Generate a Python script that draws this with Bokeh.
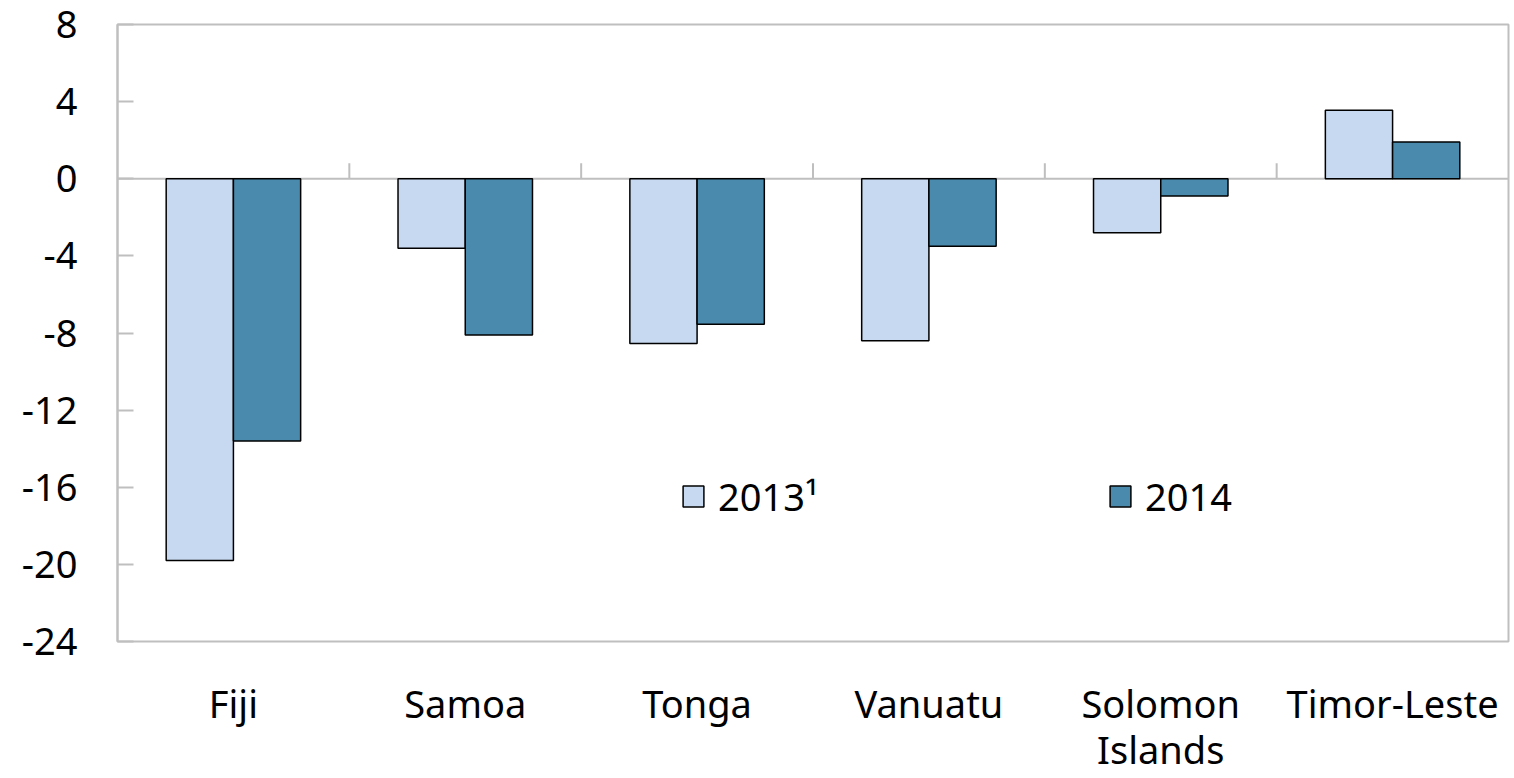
from bokeh.plotting import figure
from bokeh.models import Range1d, FixedTicker, Legend, LegendItem, ColumnDataSource
from bokeh.embed import file_html
from bokeh.resources import INLINE

countries = ["Fiji", "Samoa", "Tonga", "Vanuatu", "Solomon\nIslands", "Timor-Leste"]
v2013 = [-19.8, -3.6, -8.55, -8.4, -2.8, 3.55]
v2014 = [-13.6, -8.1, -7.55, -3.5, -0.9, 1.9]
yticks = [-24, -20, -16, -12, -8, -4, 0, 4, 8]
labels = ["2013\u00b9", "2014"]

FONT = "Noto Sans"
LIGHT = "#C6D9F0"
DARK = "#4A8BAD"
GRID = "#BFBFBF"

n = len(countries)
centers = [i + 0.5 for i in range(n)]
bw = 0.29

p = figure(width=1514, height=778, output_backend="svg", toolbar_location=None,
           x_range=Range1d(0, n), y_range=Range1d(-24, 8),
           min_border_left=117, min_border_top=24, min_border_right=6, min_border_bottom=136)
p.outline_line_color = GRID
p.outline_line_width = 2
p.grid.visible = False
p.background_fill_color = "white"

s13 = ColumnDataSource(dict(x=[c - bw / 2 for c in centers], top=v2013))
s14 = ColumnDataSource(dict(x=[c + bw / 2 for c in centers], top=v2014))
r13 = p.vbar(x="x", top="top", bottom=0, width=bw, source=s13, fill_color=LIGHT, line_color="black", line_width=1.5)
r14 = p.vbar(x="x", top="top", bottom=0, width=bw, source=s14, fill_color=DARK, line_color="black", line_width=1.5)

# zero line and category separator ticks
p.segment(x0=[0], y0=[0], x1=[n], y1=[0], line_color=GRID, line_width=2, level="underlay")
p.segment(x0=list(range(1, n)), y0=[0] * (n - 1), x1=list(range(1, n)), y1=[0.8] * (n - 1),
          line_color=GRID, line_width=2, level="underlay")

# y axis
ya = p.yaxis[0]
ya.ticker = FixedTicker(ticks=yticks)
ya.major_label_overrides = {t: str(t) for t in yticks}
ya.axis_line_color = GRID
ya.axis_line_width = 2
ya.major_tick_in = 16
ya.major_tick_out = 0
ya.major_tick_line_color = GRID
ya.major_tick_line_width = 2
ya.minor_tick_line_color = None
ya.major_label_text_font = FONT
ya.major_label_text_font_size = "38px"
ya.major_label_text_color = "black"
ya.major_label_standoff = 40

# x axis
xa = p.xaxis[0]
xa.ticker = FixedTicker(ticks=centers)
xa.major_label_overrides = {c: name for c, name in zip(centers, countries)}
xa.axis_line_color = None
xa.major_tick_line_color = None
xa.minor_tick_line_color = None
xa.major_label_text_font = FONT
xa.major_label_text_font_size = "38px"
xa.major_label_text_color = "black"
xa.major_label_text_line_height = 0.9
xa.major_label_standoff = 29

legend = Legend(items=[LegendItem(label=labels[0], renderers=[r13]),
                       LegendItem(label=labels[1], renderers=[r14])],
                orientation="horizontal", location=(563, 119),
                label_text_font=FONT, label_text_font_size="38px", label_text_color="black",
                glyph_width=26, glyph_height=26, label_standoff=12,
                label_width=389, spacing=0, padding=0, margin=0,
                border_line_color=None, background_fill_alpha=0)
p.add_layout(legend, "center")

open("out.html", "w").write(file_html(p, INLINE))
